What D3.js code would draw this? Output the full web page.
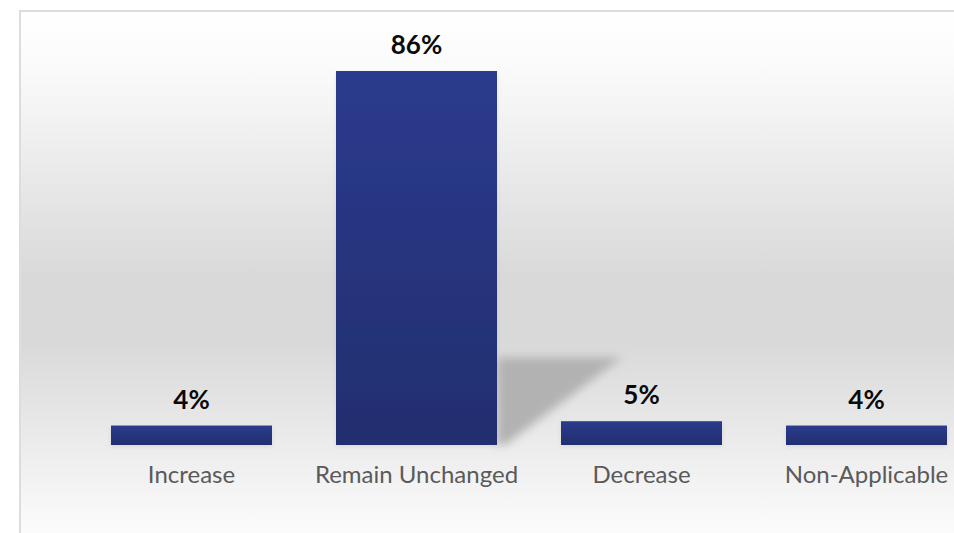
<!DOCTYPE html>
<html>
<head>
<meta charset="utf-8">
<script src="https://cdn.jsdelivr.net/npm/d3@7"></script>
<style>
html,body{margin:0;padding:0;background:#fff;}
svg{display:block;}
</style>
</head>
<body>
<svg id="chart" width="954" height="533"></svg>
<script>
const categories = ["Increase", "Remain Unchanged", "Decrease", "Non-Applicable"];
const values = [4, 86, 5, 4];
const valueLabels = ["4%", "86%", "5%", "4%"];

const W = 954, H = 533;
const svg = d3.select("#chart");
const defs = svg.append("defs");

// background gradient
const bg = defs.append("linearGradient").attr("id", "bgGrad")
  .attr("x1", 0).attr("y1", 0).attr("x2", 0).attr("y2", 1);
[[0, "#ffffff"], [0.1, "#fbfbfb"], [0.5, "#d9d9d9"], [0.62, "#d9d9d9"], [0.95, "#f9f9f9"], [1, "#fdfdfd"]]
  .forEach(([o, c]) => bg.append("stop").attr("offset", o).attr("stop-color", c));

// bar gradient
const bar = defs.append("linearGradient").attr("id", "barGrad")
  .attr("x1", 0).attr("y1", 0).attr("x2", 0).attr("y2", 1);
[[0, "#2b3b8e"], [1, "#222e6e"]]
  .forEach(([o, c]) => bar.append("stop").attr("offset", o).attr("stop-color", c));

const blur = defs.append("filter").attr("id", "shBlur")
  .attr("x", "-20%").attr("y", "-20%").attr("width", "140%").attr("height", "140%");
blur.append("feGaussianBlur").attr("stdDeviation", 5);

const soft = defs.append("filter").attr("id", "barShadow")
  .attr("x", "-10%").attr("y", "-30%").attr("width", "120%").attr("height", "180%");
soft.append("feDropShadow").attr("dx", 0).attr("dy", 2).attr("stdDeviation", 2)
  .attr("flood-color", "#000").attr("flood-opacity", 0.08);

// panel
svg.append("rect").attr("x", 20).attr("y", 11).attr("width", W).attr("height", H)
  .attr("fill", "url(#bgGrad)").attr("stroke", "#dddddd").attr("stroke-width", 2);

const x = d3.scaleBand().domain(categories).range([79, 979])
  .paddingInner(0.2844).paddingOuter(0.1422);
const y = d3.scaleLinear().domain([-0.5, 86]).range([445, 71]);

const data = categories.map((c, i) => ({ c, v: values[i], label: valueLabels[i] }));

// perspective shadow behind the tallest bar
const maxD = data.reduce((a, b) => (b.v > a.v ? b : a));
const sx = x(maxD.c) + x.bandwidth();
const sTop = y(maxD.v * 0.23);
svg.append("polygon")
  .attr("points", [[sx, sTop], [sx + 125, sTop], [sx + 8, y(-0.5)], [sx, y(-0.5)]].map(p => p.join(",")).join(" "))
  .attr("fill", "#b2b2b2").attr("filter", "url(#shBlur)");

// bars
svg.selectAll("rect.bar").data(data).join("rect").attr("class", "bar")
  .attr("x", d => x(d.c)).attr("width", x.bandwidth())
  .attr("y", d => y(d.v)).attr("height", d => y(-0.5) - y(d.v))
  .attr("fill", "url(#barGrad)").attr("filter", "url(#barShadow)");

// value labels
svg.selectAll("text.val").data(data).join("text").attr("class", "val")
  .attr("x", d => x(d.c) + x.bandwidth() / 2)
  .attr("y", d => y(d.v) - 17)
  .attr("text-anchor", "middle")
  .attr("font-family", "Lato, 'Open Sans', sans-serif")
  .attr("font-weight", 700).attr("font-size", 26).attr("fill", "#0a0a0a")
  .text(d => d.label);

// category axis labels
const xAxis = d3.axisBottom(x).tickSize(0).tickPadding(0);
const gx = svg.append("g").attr("transform", `translate(0,${y(-0.5)})`).call(xAxis);
gx.select(".domain").remove();
gx.selectAll("text")
  .attr("y", 38).attr("dy", 0)
  .attr("font-family", "Lato, 'Open Sans', sans-serif")
  .attr("font-size", 24).attr("fill", "#5a5a5a");
</script>
</body>
</html>
